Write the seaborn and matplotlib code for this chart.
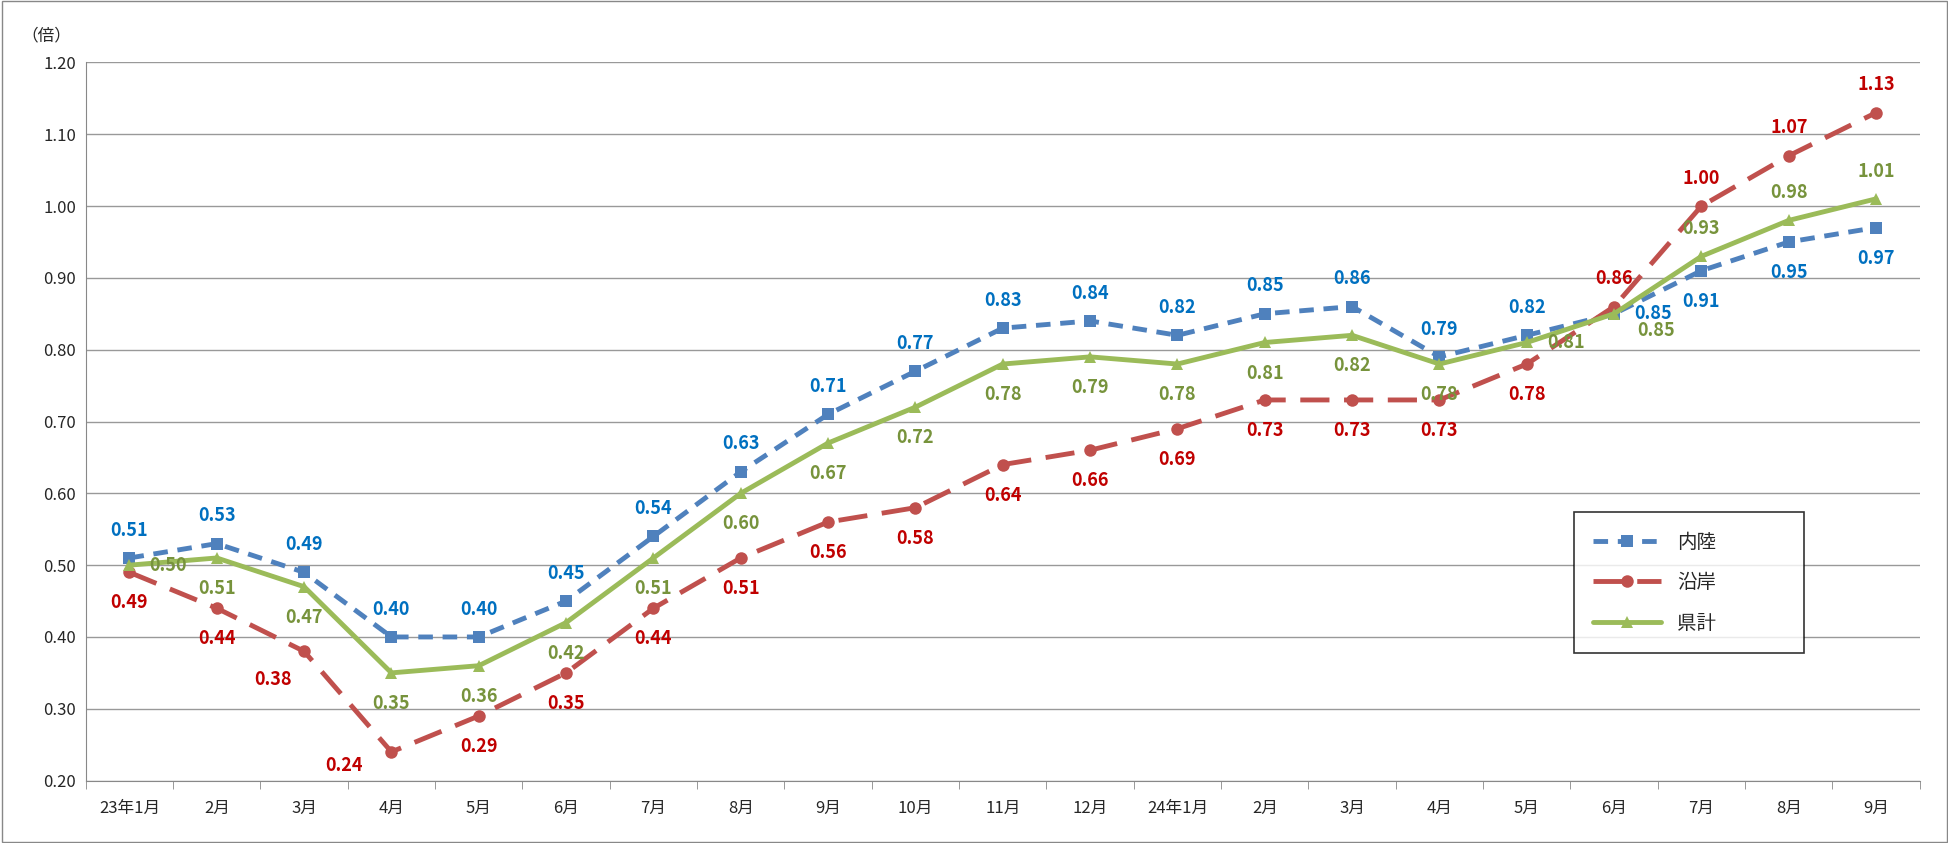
import numpy as np
import pandas as pd
import matplotlib
matplotlib.use("Agg")
import matplotlib.pyplot as plt
import seaborn as sns

months = ["23年1月", "2月", "3月", "4月", "5月", "6月", "7月", "8月", "9月", "10月", "11月", "12月",
          "24年1月", "2月", "3月", "4月", "5月", "6月", "7月", "8月", "9月"]
inland = [0.51, 0.53, 0.49, 0.40, 0.40, 0.45, 0.54, 0.63, 0.71, 0.77, 0.83, 0.84,
          0.82, 0.85, 0.86, 0.79, 0.82, 0.85, 0.91, 0.95, 0.97]
coast = [0.49, 0.44, 0.38, 0.24, 0.29, 0.35, 0.44, 0.51, 0.56, 0.58, 0.64, 0.66,
         0.69, 0.73, 0.73, 0.73, 0.78, 0.86, 1.00, 1.07, 1.13]
total = [0.50, 0.51, 0.47, 0.35, 0.36, 0.42, 0.51, 0.60, 0.67, 0.72, 0.78, 0.79,
         0.78, 0.81, 0.82, 0.78, 0.81, 0.85, 0.93, 0.98, 1.01]

sns.set_style("white")
plt.rcParams['font.family'] = ['Noto Sans CJK JP', 'DejaVu Sans']

x = np.arange(len(months))
df = pd.DataFrame({"x": np.tile(x, 3),
                   "v": inland + coast + total,
                   "s": ["内陸"] * 21 + ["沿岸"] * 21 + ["県計"] * 21})

fig = plt.figure(figsize=(19.49, 8.43), dpi=100)
ax = fig.add_axes([0.044, 0.074, 0.941, 0.852])
fig.patches.append(plt.Rectangle((0.001, 0.001), 0.998, 0.998, transform=fig.transFigure,
                                 fill=False, edgecolor="#888888", lw=1))

styles = {"内陸": ("#4F81BD", "#0070C0", "s", (3, 2)),
          "沿岸": ("#C0504D", "#C00000", "o", (6, 3)),
          "県計": ("#9BBB59", "#77933C", "^", None)}
for name, (c, tc, m, dash) in styles.items():
    d = df[df.s == name]
    sns.lineplot(data=d, x="x", y="v", ax=ax, color=c, marker=m, markersize=9,
                 markeredgewidth=0, lw=3.5, label=name)
    if dash:
        ax.lines[-1].set_dashes(dash)

def lab(vals, color, offs):
    for i, v in enumerate(vals):
        dx, dy = offs(i)
        ax.annotate(f"{v:.2f}", (i, v), xytext=(dx, dy), textcoords="offset points",
                    ha="center", va="center", color=color, fontsize=13, fontweight="bold")

def coast_off(i):
    if i >= 17:
        return (0, 20)
    if i == 2:
        return (-22, -20)
    if i == 3:
        return (-34, -10)
    return (0, -22)

lab(inland, "#0070C0", lambda i: (0, -22) if i in (18, 19, 20) else ((28, 0) if i == 17 else (0, 20)))
lab(coast, "#C00000", coast_off)
lab(total, "#77933C", lambda i: (0, 20) if i >= 18 else ((28, 0) if i in (0, 16) else ((30, -12) if i == 17 else (0, -22))))

ax.set_xlim(-0.5, 20.5)
ax.set_ylim(0.2, 1.2)
ax.set_yticks(np.arange(0.2, 1.21, 0.1))
ax.set_yticklabels([f"{t:.2f}" for t in np.arange(0.2, 1.21, 0.1)], fontsize=12)
ax.set_xticks(x)
ax.set_xticklabels(months, fontsize=12)
ax.set_xticks(np.arange(-0.5, 21, 1), minor=True)
ax.tick_params(axis="x", which="major", length=0, pad=14)
ax.tick_params(axis="x", which="minor", length=6, color="#888888", direction="out", bottom=True)
ax.grid(axis="y", color="#999999", lw=1)
ax.set_xlabel("")
ax.set_ylabel("")
for s in ["top", "right"]:
    ax.spines[s].set_visible(False)
for s in ["left", "bottom"]:
    ax.spines[s].set_color("#888888")
ax.text(-0.035, 1.03, "（倍）", transform=ax.transAxes, fontsize=12, ha="left")

leg = ax.legend(loc="lower left", bbox_to_anchor=(0.806, 0.164, 0.136, 0.18), mode="expand",
                frameon=True, fancybox=False, fontsize=14, handlelength=3.5, labelspacing=1.0,
                borderpad=1.0)
leg.get_frame().set_edgecolor("black")
leg.get_frame().set_linewidth(1.2)

fig.savefig("out.png", dpi=100)
